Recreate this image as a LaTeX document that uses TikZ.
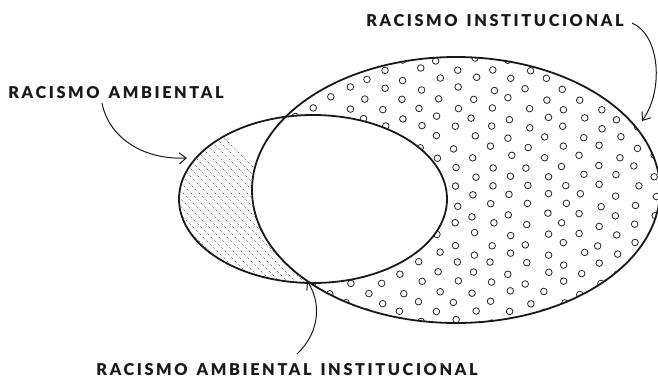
\documentclass[tikz,border=0pt]{standalone}
\usepackage{fontspec}
\usetikzlibrary{arrows.meta}
\newfontfamily\labfont{Lato Black}[LetterSpace=16,WordSpace=1.4]
\tikzset{
  lab/.style={font=\labfont\fontsize{16.3}{17}\selectfont, text=black!90, inner sep=0pt, anchor=center},
  outline/.style={line width=1.8pt, black!90},
  dotc/.style={line width=0.8pt, black!85},
  hatch/.style={line width=0.65pt, black!80, dash pattern=on 0.6pt off 1.4pt},
  arr/.style={line width=1pt, black!90, -{Straight Barb[length=7pt,width=11pt,line width=1pt]}}
}
\begin{document}
\begin{tikzpicture}[x=1pt,y=-1pt]
\useasboundingbox (0,0) rectangle (658,378);
% hatch in small ellipse
\begin{scope}
  \clip (313,199) ellipse [x radius=134pt, y radius=84pt];
  \foreach \c in {-110,-102,...,190}{
    \draw[hatch] (\c,100) -- ({\c+200},300);
  }
\end{scope}
% dots in big ellipse
\begin{scope}
  \clip (456,190) ellipse [x radius=204pt, y radius=133pt];
  \fill[white] (250,50) rectangle (662,330);
  \pgfmathsetseed{11}
  \foreach \r in {0,...,29}{
    \foreach \c in {0,...,12}{
      \pgfmathsetmacro\px{240+36*\c+18*mod(\r,2)+rand*3}
      \pgfmathsetmacro\py{50+9.7*\r+rand*2}
      \draw[dotc] (\px,\py) circle[radius=3.3pt];
    }
  }
  \clip (313,199) ellipse [x radius=134pt, y radius=84pt];
  \fill[white] (170,100) rectangle (460,300);
\end{scope}
\draw[outline] (313,199) ellipse [x radius=134pt, y radius=84pt];
\draw[outline] (456,190) ellipse [x radius=204pt, y radius=133pt];
% labels
\node[lab] (amb) at (116,92.5) {RACISMO AMBIENTAL};
\node[lab] (inst) at (495,21) {RACISMO INSTITUCIONAL};
\node[lab] (both) at (287,369.5) {RACISMO AMBIENTAL INSTITUCIONAL};
\coordinate (ambS) at (102,103);
\coordinate (ambT) at (187,158);
\coordinate (instS) at (632,23);
\coordinate (instT) at (642,121);
\coordinate (bothS) at (297,354);
\coordinate (bothT) at (307,281);
\draw[arr] (ambS) .. controls (108,135) and (140,160) .. (ambT);
\draw[arr] (instS) .. controls (660,35) and (664,90) .. (instT);
\draw[arr] (bothS) .. controls (322,330) and (320,300) .. (bothT);
\end{tikzpicture}
\end{document}
